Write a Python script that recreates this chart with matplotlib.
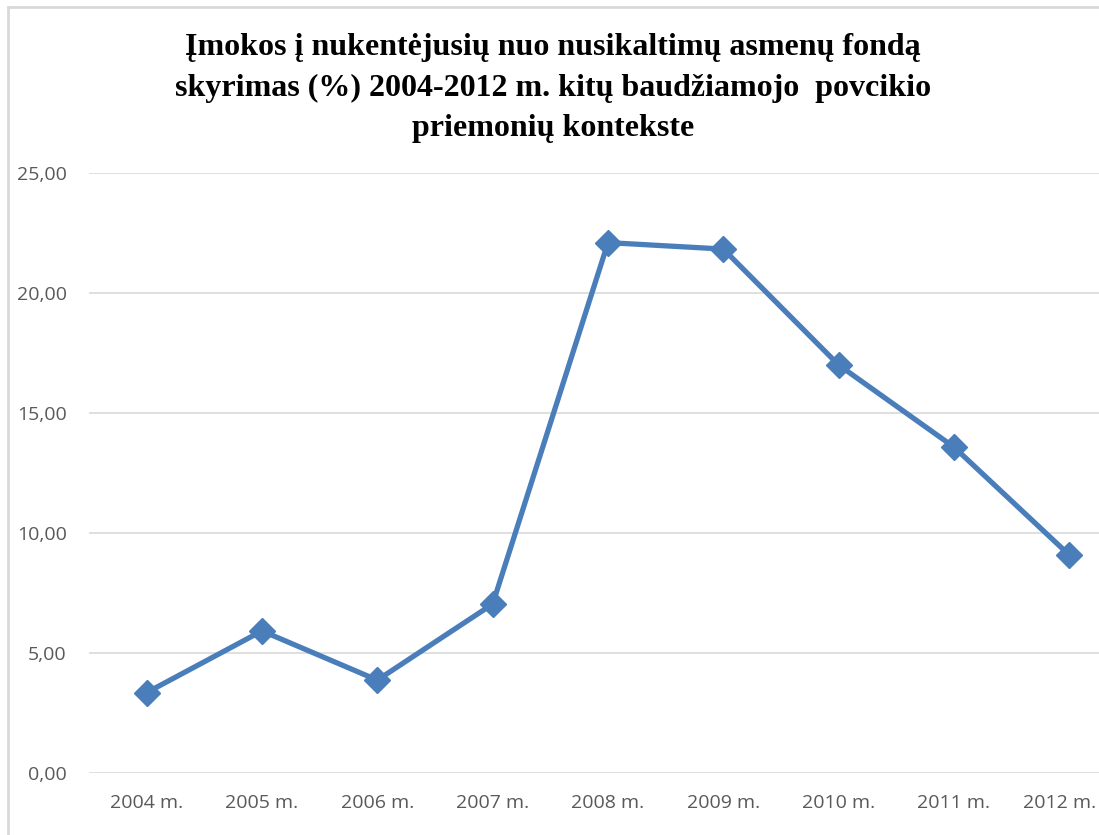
import matplotlib.pyplot as plt
from matplotlib.lines import Line2D
from matplotlib.ticker import FuncFormatter
from matplotlib.transforms import ScaledTranslation

# duomenys
years = ['2004 m.', '2005 m.', '2006 m.', '2007 m.', '2008 m.',
         '2009 m.', '2010 m.', '2011 m.', '2012 m.']
values = [3.35, 5.92, 3.87, 7.04, 22.10, 21.83, 17.00, 13.58, 9.08]
yticks = [0, 5, 10, 15, 20, 25]

title = ('Įmokos į nukentėjusių nuo nusikaltimų asmenų fondą\n'
         'skyrimas (%) 2004-2012 m. kitų baudžiamojo  povcikio\n'
         'priemonių kontekste')

W, H = 1099, 835
fig = plt.figure(figsize=(W / 100, H / 100), dpi=100)

# rėmelis: tik kairė ir viršus matosi
bx, by = 8 / W, 1 - 7 / H
fig.add_artist(Line2D([bx, bx], [0, by], transform=fig.transFigure,
                      color='#d9d9d9', linewidth=2))
fig.add_artist(Line2D([bx, 1], [by, by], transform=fig.transFigure,
                      color='#d9d9d9', linewidth=2))

ax = fig.add_axes([89 / W, 62 / H, 1038 / W, 600 / H])
x = list(range(len(years)))
ax.plot(x, values, color='#4a7ebb', linewidth=3.8, marker='D',
        markersize=13, markerfacecolor='#4a7ebb', markeredgecolor='#4a7ebb',
        solid_joinstyle='round', clip_on=False, zorder=3)

ax.set_xlim(-0.5, len(years) - 0.5)
ax.set_ylim(0, 25)
ax.set_yticks(yticks)
ax.yaxis.set_major_formatter(FuncFormatter(lambda v, p: f'{v:.2f}'.replace('.', ',')))
ax.set_xticks(x)
ax.set_xticklabels(years)
ax.grid(axis='y', color='#d9d9d9', linewidth=1.2)
ax.set_axisbelow(True)
for s in ax.spines.values():
    s.set_visible(False)
ax.tick_params(length=0, labelsize=14, labelcolor='#595959')
ax.tick_params(axis='y', pad=16)
ax.tick_params(axis='x', pad=15)
for lab in ax.get_xticklabels() + ax.get_yticklabels():
    lab.set_family(['Open Sans', 'DejaVu Sans'])

# paskutinė etiketė pastumta, kad tilptų į kadrą (kaip originale)
last = ax.get_xticklabels()[-1]
last.set_horizontalalignment('right')
last.set_transform(last.get_transform() + ScaledTranslation(0.27, 0, fig.dpi_scale_trans))

fig.text(553 / W, 1 - 88 / H, title, ha='center', va='center',
         fontsize=23, fontweight='bold', family='Liberation Serif',
         linespacing=1.5)

fig.savefig('out.png', dpi=100)
